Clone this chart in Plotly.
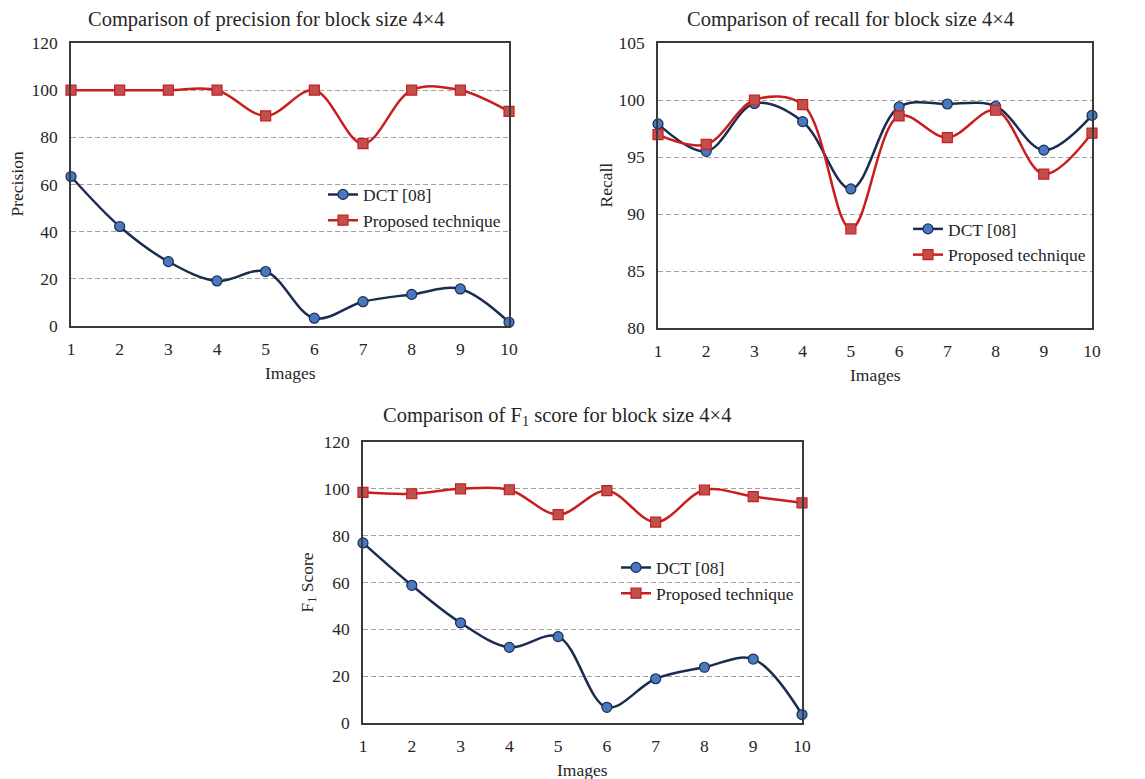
import plotly.graph_objects as go

images = list(range(1, 11))

prec_dct = [63.4, 42.2, 27.3, 19.1, 23.1, 3.3, 10.3, 13.4, 15.7, 1.6]
prec_prop = [100, 100, 100, 100, 89.1, 100, 77.3, 100, 100, 91.0]

rec_dct = [97.9, 95.5, 99.7, 98.1, 92.2, 99.4, 99.65, 99.45, 95.6, 98.65]
rec_prop = [96.96, 96.1, 100, 99.6, 88.7, 98.6, 96.7, 99.1, 93.5, 97.1]

f1_dct = [76.9, 58.8, 42.8, 32.3, 36.9, 6.7, 18.9, 23.8, 27.3, 3.6]
f1_prop = [98.5, 97.9, 100, 99.6, 89.0, 99.2, 85.8, 99.5, 96.7, 94.0]

series_names = ["DCT [08]", "Proposed technique"]
titles = ["Comparison of precision for block size 4×4",
          "Comparison of recall for block size 4×4",
          "Comparison of F<sub>1</sub> score for block size 4×4"]
ytitles = ["Precision", "Recall", "F<sub>1</sub> Score"]
xtitle = "Images"

W, H = 1145, 779
FONT = "Liberation Serif, Times New Roman, serif"
NAVY = "#1b2d4f"
BLUE_FILL = "#4a78c0"
RED = "#c81e1e"
RED_FILL = "#c0504d"
TXT = "#262626"

fig = go.Figure()

def px(x):
    return x / W

def py(y):
    return 1 - y / H

# plot-area boxes in pixels (left, right, top, bottom)
boxes = [(71, 509, 43, 326), (658, 1092, 43, 328), (363, 802, 442, 723)]
yranges = [[0, 120], [80, 105], [0, 120]]
ydticks = [20, 5, 20]
data = [(prec_dct, prec_prop), (rec_dct, rec_prop), (f1_dct, f1_prop)]
legend_pos = [(323, 176.5), (908, 211), (616, 549.5)]
title_pos = [(266, 20), (850, 20), (557, 417)]
ytitle_x = [17, 605, 308]

for i, (box, yr, dt, (d1, d2)) in enumerate(zip(boxes, yranges, ydticks, data)):
    l, r, t, b = box
    sfx = "" if i == 0 else str(i + 1)
    xa = "x" + sfx
    ya = "y" + sfx
    leg = "legend" + sfx
    fig.add_trace(go.Scatter(
        x=images, y=d1, name=series_names[0], xaxis=xa, yaxis=ya, legend=leg,
        mode="lines+markers", line=dict(color=NAVY, width=2.5, shape="spline", smoothing=1),
        marker=dict(symbol="circle", size=10, color=BLUE_FILL, line=dict(color=NAVY, width=1.2)),
        cliponaxis=False))
    fig.add_trace(go.Scatter(
        x=images, y=d2, name=series_names[1], xaxis=xa, yaxis=ya, legend=leg,
        mode="lines+markers", line=dict(color=RED, width=2.5, shape="spline", smoothing=1),
        marker=dict(symbol="square", size=10, color=RED_FILL, line=dict(color=RED, width=1.2)),
        cliponaxis=False))
    fig.update_layout(**{
        "xaxis" + sfx: dict(domain=[px(l), px(r)], anchor=ya, range=[1, 10], automargin=False,
                            tickmode="array", tickvals=images, showgrid=False,
                            showline=True, mirror=True, linecolor="#3a3a3a", linewidth=1.5,
                            ticks="outside", ticklen=6, tickcolor="rgba(0,0,0,0)",
                            tickfont=dict(family=FONT, size=17.5, color=TXT),
                            zeroline=False),
        "yaxis" + sfx: dict(domain=[py(b), py(t)], anchor=xa, range=yr, dtick=dt, automargin=False,
                            showgrid=True, gridcolor="#a0a0a0", griddash="5px,3px", gridwidth=1.3,
                            showline=True, mirror=True, linecolor="#3a3a3a", linewidth=1.5,
                            ticks="outside", ticklen=8, tickcolor="rgba(0,0,0,0)",
                            tickfont=dict(family=FONT, size=17.5, color=TXT),
                            zeroline=False),
        leg: dict(x=px(legend_pos[i][0]), y=py(legend_pos[i][1]), xanchor="left", yanchor="top",
                  bgcolor="rgba(0,0,0,0)", borderwidth=0, tracegroupgap=0,
                  font=dict(family=FONT, size=17.5, color=TXT)),
    })
    fig.add_annotation(x=px(title_pos[i][0]), y=py(title_pos[i][1]), xref="paper", yref="paper",
                       text=titles[i], showarrow=False, xanchor="center", yanchor="middle",
                       font=dict(family=FONT, size=20.5, color=TXT))
    fig.add_annotation(x=px(ytitle_x[i]), y=py((t + b) / 2), xref="paper", yref="paper",
                       text=ytitles[i], showarrow=False, textangle=-90, xanchor="center", yanchor="middle",
                       font=dict(family=FONT, size=17.5, color=TXT))
    fig.add_annotation(x=px((l + r) / 2), y=py(b + 47), xref="paper", yref="paper",
                       text=xtitle, showarrow=False, xanchor="center", yanchor="middle",
                       font=dict(family=FONT, size=17.5, color=TXT))

fig.update_layout(width=W, height=H, margin=dict(l=0, r=0, t=0, b=0, autoexpand=False),
                  paper_bgcolor="white", plot_bgcolor="white", showlegend=True)

fig.write_html("out.html", config={"displayModeBar": False},
               post_script="document.body.style.margin='0';document.body.style.padding='0';")
